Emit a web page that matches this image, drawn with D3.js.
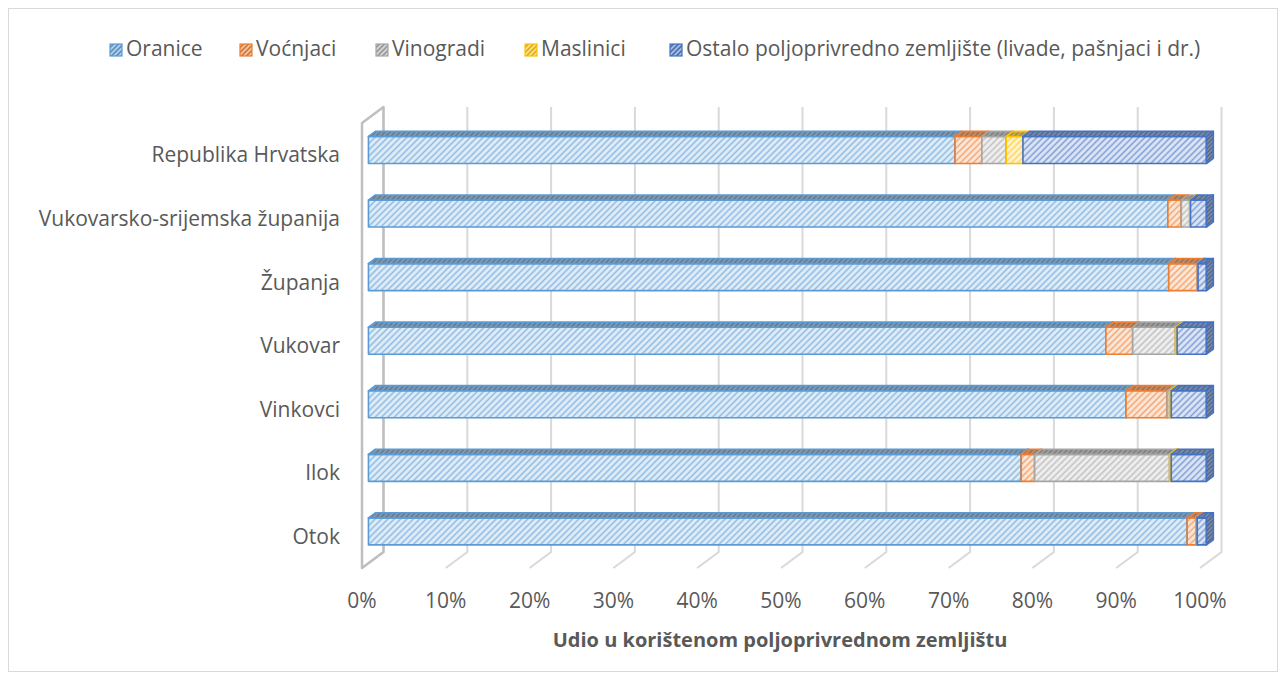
<!DOCTYPE html>
<html>
<head>
<meta charset="utf-8">
<script src="https://cdn.jsdelivr.net/npm/d3@7"></script>
<style>
  body { margin: 0; background: #fff; }
  text { font-family: "Open Sans", sans-serif; fill: #595959; }
</style>
</head>
<body>
<script>
"use strict";

// categories, top to bottom
var categories = ["Republika Hrvatska", "Vukovarsko-srijemska županija", "Županja", "Vukovar", "Vinkovci", "Ilok", "Otok"];
var seriesNames = ["Oranice", "Voćnjaci", "Vinogradi", "Maslinici", "Ostalo poljoprivredno zemljište (livade, pašnjaci i dr.)"];
var colors = ["#5B9BD5", "#ED7D31", "#A5A5A5", "#FFC000", "#4472C4"];

// shares in %, one list per series, same order as categories
var oranice   = [70.0, 95.4, 95.5, 88.0, 90.4, 77.9, 97.7];
var vocnjaci  = [3.2, 1.6, 3.4, 3.2, 4.9, 1.6, 1.1];
var vinogradi = [2.9, 1.0, 0.1, 5.1, 0.3, 16.1, 0.1];
var maslinici = [2.0, 0.1, 0.0, 0.2, 0.2, 0.2, 0.0];
var ostalo    = [21.9, 1.9, 1.0, 3.5, 4.2, 4.2, 1.1];
var xTicks = [0, 10, 20, 30, 40, 50, 60, 70, 80, 90, 100];
var xTitle = "Udio u korištenom poljoprivrednom zemljištu";

var width = 1286, height = 680;
var seriesValues = [oranice, vocnjaci, vinogradi, maslinici, ostalo];

// 3d projection: front plane + depth offset
var DX = 21.5, DY = -16;
var T0 = 0.3, T1 = 0.62;   // bar depth
var barH = 27;

var x = d3.scaleLinear().domain([0, 100]).range([362, 1200]);
var y = d3.scaleBand().domain(categories).range([123, 568]);

function px(v, t) { return x(v) + t * DX; }
function py(yy, t) { return yy + t * DY; }

var svg = d3.select("body").append("svg")
    .attr("width", width)
    .attr("height", height);

svg.append("rect")
    .attr("x", 8.5).attr("y", 8.5)
    .attr("width", 1269).attr("height", 663)
    .attr("fill", "#fff")
    .attr("stroke", "#d9d9d9");

// patterns
var defs = svg.append("defs");
function makePattern(id, bg, stripe, size, sw) {
  var p = defs.append("pattern")
      .attr("id", id)
      .attr("patternUnits", "userSpaceOnUse")
      .attr("width", size).attr("height", size)
      .attr("patternTransform", "rotate(45)");
  p.append("rect").attr("width", size).attr("height", size).attr("fill", bg);
  p.append("line")
      .attr("x1", size / 2).attr("x2", size / 2)
      .attr("y1", 0).attr("y2", size)
      .attr("stroke", stripe).attr("stroke-width", sw);
}
colors.forEach(function(c, i) {
  makePattern("front" + i, d3.interpolateRgb(c, "#fff")(0.82), d3.interpolateRgb(c, "#fff")(0.3), 4.5, 1.5);
  makePattern("top" + i, d3.interpolateRgb(c, "#9a9a9a")(0.6), d3.interpolateRgb(c, "#666")(0.6), 3.5, 1.6);
  makePattern("side" + i, d3.interpolateRgb(c, "#aaa")(0.65), d3.interpolateRgb(c, "#555")(0.65), 3, 1.5);
  makePattern("leg" + i, d3.interpolateRgb(c, "#fff")(0.55), d3.interpolateRgb(c, "#555")(0.2), 3.5, 1.6);
});

// walls and gridlines
var grid = svg.append("g");
var yTopF = y.range()[0], yBotF = y.range()[1];
grid.selectAll(".gridline").data(xTicks).enter().append("path")
    .attr("class", "gridline")
    .attr("fill", "none")
    .attr("stroke", "#d9d9d9")
    .attr("stroke-width", 2)
    .attr("d", function(d) {
      return "M" + px(d, 1) + "," + py(yTopF, 1) +
             "L" + px(d, 1) + "," + py(yBotF, 1) +
             "L" + px(d, 0) + "," + py(yBotF, 0);
    });
// left wall
grid.append("path")
    .attr("fill", "none")
    .attr("stroke", "#bfbfbf")
    .attr("stroke-width", 2.5)
    .attr("stroke-linejoin", "round")
    .attr("d", "M" + px(0, 0) + "," + py(yBotF, 0) +
               "L" + px(0, 0) + "," + py(yTopF, 0) +
               "L" + px(0, 1) + "," + py(yTopF, 1) +
               "L" + px(0, 1) + "," + py(yBotF, 1) + "Z");

// bars
var bars = svg.append("g");
categories.forEach(function(cat, ci) {
  var yc = y(cat) + y.bandwidth() / 2;
  var y0 = yc - barH / 2, y1 = yc + barH / 2;
  var start = 0;
  seriesValues.forEach(function(vals, si) {
    var v = vals[ci];
    if (v <= 0) return;
    var a = start, b = start + v;
    start = b;
    var g = bars.append("g")
        .attr("stroke", colors[si])
        .attr("stroke-width", 1.6)
        .attr("stroke-linejoin", "round");
    // front
    g.append("path")
        .attr("fill", "url(#front" + si + ")")
        .attr("d", "M" + px(a, T0) + "," + py(y0, T0) + "L" + px(b, T0) + "," + py(y0, T0) +
                   "L" + px(b, T0) + "," + py(y1, T0) + "L" + px(a, T0) + "," + py(y1, T0) + "Z");
    // top
    g.append("path")
        .attr("fill", "url(#top" + si + ")")
        .attr("d", "M" + px(a, T0) + "," + py(y0, T0) + "L" + px(b, T0) + "," + py(y0, T0) +
                   "L" + px(b, T1) + "," + py(y0, T1) + "L" + px(a, T1) + "," + py(y0, T1) + "Z");
    // right end
    g.append("path")
        .attr("fill", "url(#side" + si + ")")
        .attr("d", "M" + px(b, T0) + "," + py(y0, T0) + "L" + px(b, T1) + "," + py(y0, T1) +
                   "L" + px(b, T1) + "," + py(y1, T1) + "L" + px(b, T0) + "," + py(y1, T0) + "Z");
  });
});

// category labels
svg.append("g").selectAll("text").data(categories).enter().append("text")
    .attr("x", 340)
    .attr("y", function(d) { return y(d) + y.bandwidth() / 2 + 2; })
    .attr("text-anchor", "end")
    .attr("dominant-baseline", "middle")
    .style("font-size", "21px")
    .text(function(d) { return d; });

// x tick labels
svg.append("g").selectAll("text").data(xTicks).enter().append("text")
    .attr("x", function(d) { return x(d); })
    .attr("y", 608)
    .attr("text-anchor", "middle")
    .style("font-size", "21px")
    .text(function(d) { return d + "%"; });

svg.append("text")
    .attr("x", 780)
    .attr("y", 647)
    .attr("text-anchor", "middle")
    .style("font-size", "20px")
    .style("font-weight", "bold")
    .text(xTitle);

// legend
var legendX = [110, 240, 376, 525, 670];
var legend = svg.append("g").selectAll("g").data(seriesNames).enter().append("g")
    .attr("transform", function(d, i) { return "translate(" + legendX[i] + ",50)"; });
legend.append("rect")
    .attr("x", 0).attr("y", -6)
    .attr("width", 12).attr("height", 12)
    .attr("fill", function(d, i) { return "url(#leg" + i + ")"; })
    .attr("stroke", function(d, i) { return colors[i]; })
    .attr("stroke-width", 1.2);
legend.append("text")
    .attr("x", 16)
    .attr("y", 0)
    .attr("dominant-baseline", "middle")
    .style("font-size", "21px")
    .text(function(d) { return d; });
</script>
</body>
</html>
